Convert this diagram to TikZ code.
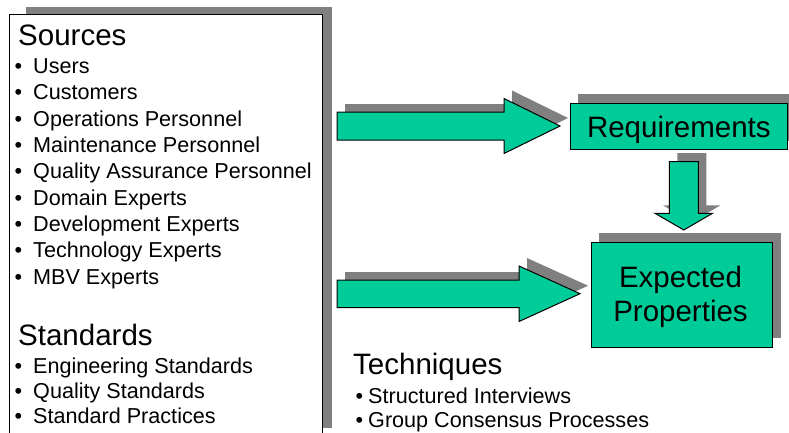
\documentclass[tikz,border=0pt]{standalone}
\usepackage{fontspec}
\setmainfont{Liberation Sans}
\definecolor{sea}{HTML}{00CC99}
\definecolor{shade}{HTML}{808080}
\begin{document}
\begin{tikzpicture}[x=1pt,y=-1pt,
  shadow/.style={fill=shade,draw=none},
  block/.style={fill=sea,draw=black,line width=1pt,line join=miter},
  panelbox/.style={draw=black,fill=white,line width=1pt,inner sep=0pt,anchor=north west},
  greenbox/.style={block,inner sep=0pt},
  title/.style={font=\fontsize{29.5}{30}\selectfont,inner sep=0pt},
  heading/.style={title,anchor=base west},
  item/.style={font=\fontsize{21.6}{22}\selectfont,anchor=base west,inner sep=0pt},
]
\useasboundingbox (0,0) rectangle (789,432);
\clip (0,0) rectangle (789,432);

% ---- left panel: sources and standards
\fill[shadow] (26,7) rectangle (332,428);
\node[panelbox,minimum width=313pt,minimum height=424pt] (panel) at (9,14) {};

\node[heading] (sources) at (18,45.5) {Sources};
\foreach [count=\i] \t in {Users,Customers,Operations Personnel,Maintenance Personnel,
    Quality Assurance Personnel,Domain Experts,Development Experts,Technology Experts,MBV Experts} {
  \node[item] (sbul\i) at (14.5,{47.3+26.3*\i}) {•};
  \node[item] (src\i) at (33,{47.3+26.3*\i}) {\t};
}

\node[heading] (standards) at (18,345) {Standards};
\foreach [count=\i] \t in {Engineering Standards,Quality Standards,Standard Practices} {
  \node[item] (dbul\i) at (14.5,{347.8+25.3*\i}) {•};
  \node[item] (std\i) at (33,{347.8+25.3*\i}) {\t};
}

% ---- techniques
\node[heading] (techniques) at (353,374) {Techniques};
\foreach [count=\i] \t in {Structured Interviews,Group Consensus Processes} {
  \node[item] (tbul\i) at (355.5,{379+24*\i}) {•};
  \node[item] (tech\i) at (368,{379+24*\i}) {\t};
}

% ---- upper block arrow into Requirements
\fill[shadow] (345,104) -- (512,104) -- (512,90.5) -- (568,118) -- (512,145.5) -- (512,132) -- (345,132) -- cycle;
\draw[block] (337,112) -- (504,112) -- (504,98.5) -- (560,126) -- (504,153.5) -- (504,140) -- (337,140) -- cycle;

% ---- lower block arrow into Expected Properties
\fill[shadow] (345,272) -- (527,272) -- (527,258) -- (588,285.7) -- (527,313.5) -- (527,299.5) -- (345,299.5) -- cycle;
\draw[block] (337,280) -- (519,280) -- (519,266) -- (580,293.7) -- (519,321.5) -- (519,307.5) -- (337,307.5) -- cycle;

% ---- Requirements box
\fill[shadow] (578,94) rectangle (795,141);
\node[greenbox,minimum width=216.7pt,minimum height=46.3pt,anchor=north west,
      title,text depth=0pt] (req) at (570,102.7) {Requirements};

% ---- downward block arrow
\fill[shadow] (677.3,153) -- (706.3,153) -- (706.3,205.3) -- (720.5,205.3) -- (691.8,222) -- (663,205.3) -- (677.3,205.3) -- cycle;
\draw[block] (669.3,161.7) -- (698.3,161.7) -- (698.3,213.3) -- (712.5,213.3) -- (683.8,230) -- (655,213.3) -- (669.3,213.3) -- cycle;

% ---- Expected Properties box
\fill[shadow] (598.7,233) rectangle (780.7,338);
\node[greenbox,minimum width=181.7pt,minimum height=105pt,anchor=north west] (exp) at (590.7,241.7) {};
\node[title,anchor=base] (expl1) at (680.5,287) {Expected};
\node[title,anchor=base] (expl2) at (680.5,321.7) {Properties};
\end{tikzpicture}
\end{document}
